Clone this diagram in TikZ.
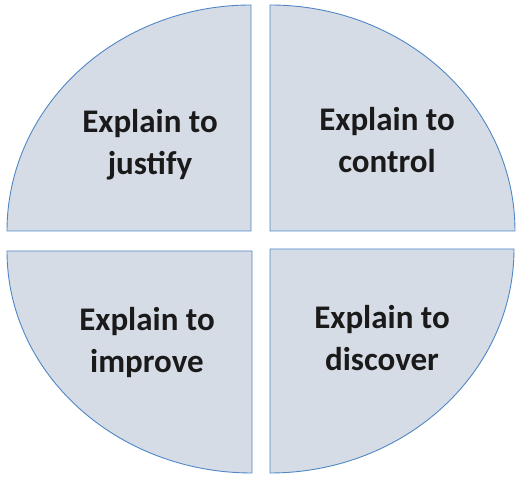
\documentclass[tikz,border=0pt]{standalone}
\usepackage{fontspec}
\setmainfont{Carlito}
\definecolor{qfill}{HTML}{D6DCE5}
\definecolor{qline}{HTML}{4F87C7}
\definecolor{qtext}{HTML}{1A1A1A}
\tikzset{
  quad/.style={fill=qfill, draw=qline, line width=0.9pt},
  qlabel/.style={align=center, text=qtext, inner sep=0pt,
    font=\bfseries\fontsize{33}{42}\selectfont},
}
\begin{document}
\begin{tikzpicture}[x=1pt,y=1pt]
\useasboundingbox (0,0) rectangle (531,481);
% top-left
\draw[quad] (251,250) -- (7,250) arc[start angle=180,end angle=90,x radius=244,y radius=226] -- cycle;
% top-right
\draw[quad] (270,250) -- (270,476) arc[start angle=90,end angle=0,x radius=245,y radius=226] -- cycle;
% bottom-left
\draw[quad] (252,230) -- (7,230) arc[start angle=180,end angle=270,x radius=245,y radius=222] -- cycle;
% bottom-right
\draw[quad] (270,232) -- (514,232) arc[start angle=0,end angle=-90,x radius=244,y radius=224] -- cycle;
\node[qlabel, anchor=base] (tl) at (150,306) {Explain to\\justify};
\node[qlabel, anchor=base] (tr) at (387,308) {Explain to\\control};
\node[qlabel, anchor=base] (bl) at (147,108) {Explain to\\improve};
\node[qlabel, anchor=base] (br) at (382,110) {Explain to\\discover};
\end{tikzpicture}
\end{document}
